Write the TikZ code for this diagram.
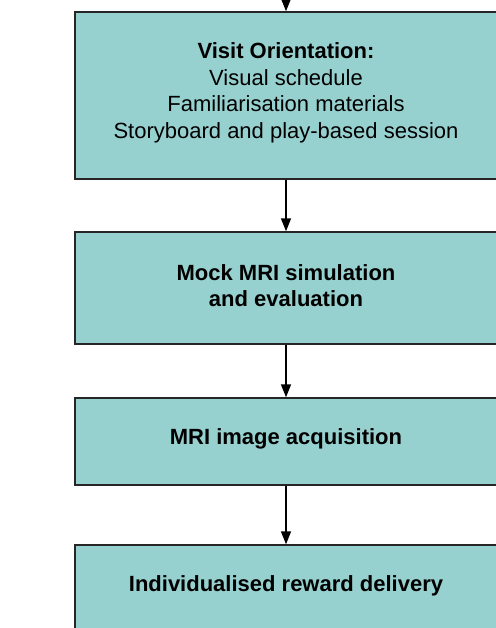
\documentclass[tikz,border=0pt]{standalone}
\usepackage{fontspec}
\setmainfont{Liberation Sans}
\usetikzlibrary{arrows.meta,positioning}
\definecolor{stepfill}{RGB}{151,209,207}

\begin{document}
\begin{tikzpicture}[
x=1pt,y=-1pt,
>={Triangle[length=13pt,width=10pt]},
stage/.style={
	draw=black!85,
	fill=stepfill,
	line width=1.4pt,
	minimum width=422pt,
	align=center,
	inner sep=0pt,
	font=\fontsize{22}{26.5}\selectfont
},
flow/.style={
	->,
	line width=1.4pt
}
]
\useasboundingbox (0,0) rectangle (495,628);

\coordinate (start) at (286,-2);
\node[stage,minimum height=167pt,text depth=9.5pt] (orient) at (286,95.5)
	{\textbf{Visit Orientation:}\\Visual schedule\\Familiarisation materials\\Storyboard and play-based session};
\node[stage,minimum height=112pt,text depth=5pt] (mock) at (286,288)
	{\textbf{Mock MRI simulation}\\\textbf{and evaluation}};
\node[stage,minimum height=87pt,text depth=10.5pt] (scan) at (286,441.5)
	{\textbf{MRI image acquisition}};
\node[stage,minimum height=95pt,text depth=17pt] (reward) at (286,592.5)
	{\textbf{Individualised reward delivery}};

\draw[flow] (start) -- (orient);
\draw[flow] (orient) -- (mock);
\draw[flow] (mock) -- (scan);
\draw[flow] (scan) -- (reward);
\end{tikzpicture}
\end{document}
